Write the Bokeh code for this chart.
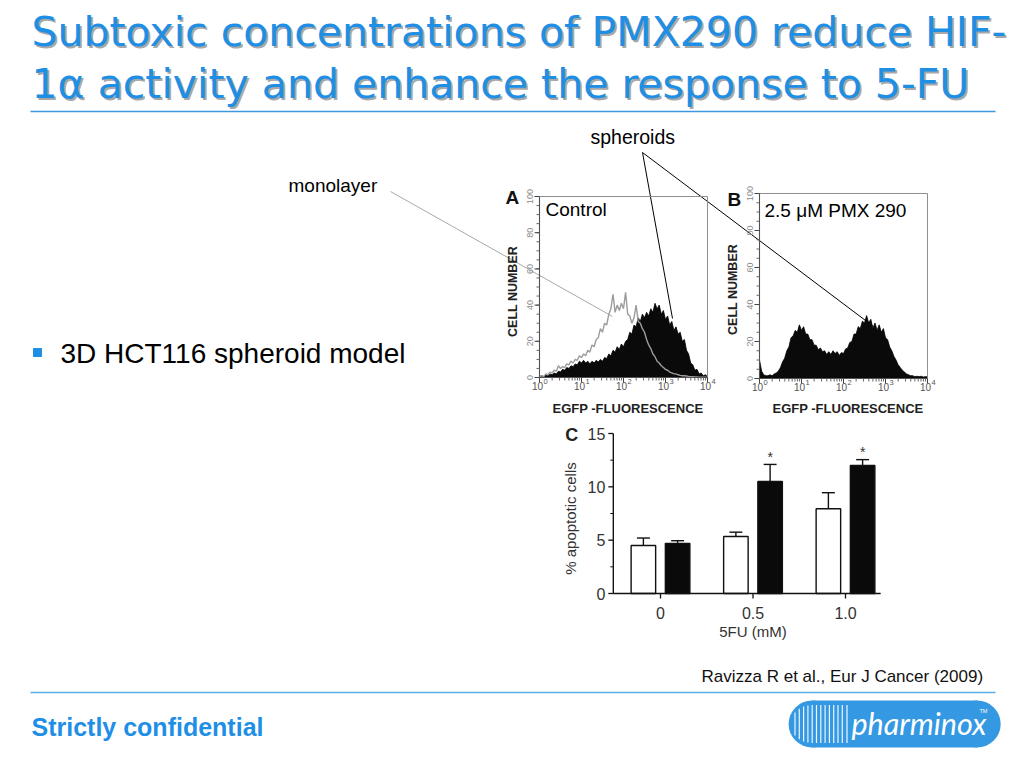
import math
from bokeh.plotting import figure
from bokeh.models import Range1d, LogScale
from bokeh.core.properties import value
from bokeh.embed import file_html
from bokeh.resources import INLINE

# ---------------- data ----------------
title_lines = ["Subtoxic concentrations of PMX290 reduce HIF-",
               "1\u03b1 activity and enhance the response to 5-FU"]
bullet_text = "3D HCT116 spheroid model"
citation = "Ravizza R et al., Eur J Cancer (2009)"
footer_text = "Strictly confidential"
logo_text = "pharminox"

# EGFP fluorescence channels (decades of the 4-decade log axis)
fluor_decades = [0.00, 0.05, 0.10, 0.15, 0.20, 0.25, 0.30, 0.35, 0.40, 0.45,
                 0.50, 0.55, 0.60, 0.65, 0.70, 0.75, 0.80, 0.85, 0.90, 0.95,
                 1.00, 1.05, 1.10, 1.15, 1.20, 1.25, 1.30, 1.35, 1.40, 1.45,
                 1.50, 1.55, 1.60, 1.65, 1.70, 1.75, 1.80, 1.85, 1.90, 1.95,
                 2.00, 2.05, 2.10, 2.15, 2.20, 2.25, 2.30, 2.35, 2.40, 2.45,
                 2.50, 2.55, 2.60, 2.65, 2.70, 2.75, 2.80, 2.85, 2.90, 2.95,
                 3.00, 3.05, 3.10, 3.15, 3.20, 3.25, 3.30, 3.35, 3.40, 3.45,
                 3.50, 3.55, 3.60, 3.65, 3.70, 3.75, 3.80, 3.85, 3.90, 3.95,
                 4.00]
# cell number, panel A (control): spheroids (black) and monolayer (grey)
spheroid_control = [0.5, 1, 0.5, 1.5, 1, 2, 1.5, 2.5, 2, 3.5,
                    3, 4.5, 4, 5.5, 5, 6.5, 6, 7.5, 7, 9,
                    8, 9.5, 8, 9, 7.5, 9, 8, 9.5, 8.5, 10,
                    9, 11, 10.5, 13, 12, 15, 14, 17, 15.5, 18.5,
                    17, 20, 21, 25, 24, 29, 28, 33, 31, 35,
                    33, 36, 34, 38, 36, 41, 38, 40, 35, 37,
                    32, 34, 29, 31, 26, 28, 24, 25, 20, 21,
                    15, 13, 8, 7, 4, 4.5, 2, 2.5, 1, 1.5,
                    0.5]
monolayer_control = [0, 1, 0.5, 2, 1.5, 3, 2.5, 4, 3.5, 6.5,
                     5, 6, 5.5, 7.5, 7, 9, 8, 10, 9.5, 12,
                     11, 13, 12, 15, 14, 18, 17, 21, 22, 27,
                     25, 30, 29, 35, 38, 46, 36, 40, 37, 41,
                     38, 47, 35, 34, 30, 33, 40, 31, 30, 27,
                     25, 21, 18, 16, 13, 11.5, 9, 8, 6.5, 5.5,
                     4.5, 4, 3, 2.5, 2, 2, 1.5, 1.2, 1, 1,
                     0.8, 0.6, 0.5, 0.4, 0.3, 0.3, 0.2, 0.2, 0.1, 0.1,
                     0]
# panel B (2.5 uM PMX 290): spheroids
spheroid_pmx = [10, 4, 2, 1.5, 1.5, 2, 1.5, 2.5, 3, 4,
                6, 9, 11, 15, 17, 22, 23, 26, 25, 29,
                26, 28, 24, 24, 21, 21, 18, 18, 15.5, 16.5,
                14.5, 15, 13, 14.5, 13, 15, 13.5, 14.5, 12.5, 14,
                13.5, 16, 16.5, 19.5, 20, 24, 24, 28, 27, 31,
                30, 34, 30, 32, 27, 30, 26, 29, 25, 27,
                22, 21, 17, 15, 12, 10, 7.5, 6, 4.5, 3.5,
                2.5, 2, 1.5, 1.5, 1, 1.2, 1, 1.2, 0.8, 1,
                1]
hist_x_ticks = [1, 10, 100, 1000, 10000]
hist_x_exponents = ["0", "1", "2", "3", "4"]
hist_y_ticks = [0, 20, 40, 60, 80, 100]
hist_y_labels = ["0", "20", "40", "60", "80", "100"]
hist_x_title = "EGFP -FLUORESCENCE"
hist_y_title = "CELL NUMBER"

# panel C: % apoptotic cells vs 5FU dose
fu_doses = ["0", "0.5", "1.0"]
apopt_control = [4.5, 5.35, 7.95]
apopt_control_err = [0.7, 0.4, 1.5]
apopt_pmx = [4.7, 10.5, 12.0]
apopt_pmx_err = [0.25, 1.6, 0.55]
apopt_sig = ["", "*", "*"]
c_y_ticks = [0, 5, 10, 15]
c_y_labels = ["0", "5", "10", "15"]
c_x_title = "5FU (mM)"
c_y_title = "% apoptotic cells"

# ---------------- page / figure ----------------
W, H = 1008, 752
X0, X1, Y0, Y1 = 0, W, 0, H
BLUE = "#1f8fe6"
ARIAL = "Liberation Sans"


def lin_range(v0, p0, v1, p1, lo, hi):
    k = (v1 - v0) / (p1 - p0)
    return Range1d(start=v0 + (lo - p0) * k, end=v0 + (hi - p0) * k)


def log_range(p_lo, p_hi, d_lo, d_hi):
    k = (d_hi - d_lo) / (p_hi - p_lo)
    return Range1d(start=10 ** (d_lo + (X0 - p_lo) * k), end=10 ** (d_lo + (X1 - p_lo) * k))


p = figure(width=W, height=H, x_range=Range1d(X0, X1), y_range=Range1d(Y1, Y0),
           output_backend="svg", toolbar_location=None,
           x_axis_location=None, y_axis_location=None, min_border=0,
           outline_line_color=None, background_fill_color="white",
           border_fill_color="white")
p.grid.visible = False

p.extra_x_ranges = {"ha": log_range(539, 707, 0, 4),
                    "hb": log_range(759, 927, 0, 4),
                    "c": lin_range(0, 660, 1, 752.5, X0, X1)}
p.extra_x_scales = {"ha": LogScale(), "hb": LogScale()}
p.extra_y_ranges = {"ha": lin_range(0, 377, 100, 196, Y1, Y0),
                    "hb": lin_range(0, 378, 100, 193, Y1, Y0),
                    "c": lin_range(0, 593, 15, 433, Y1, Y0)}


def label(xs, ys, texts, size, name=None, color="#000000", font=ARIAL, style="normal",
          align="left", baseline="alphabetic", angle=0.0, xo=0, yo=0, alpha=1.0):
    kw = dict(x_range_name=name, y_range_name=name) if name else {}
    if baseline == "alphabetic":
        # place by the baseline: centre the glyph box above it
        baseline = "middle"
        yo = yo - 0.35 * size
    p.text(x=list(xs), y=list(ys), text=list(texts), text_font=value(font),
           text_font_size=value(f"{size}px"), text_font_style=style,
           text_color=color, text_alpha=alpha, text_align=align,
           text_baseline=baseline, angle=angle, x_offset=xo, y_offset=yo, **kw)


def ticks(xs, ys, length, angle, name, color="#444444", width=1.0):
    p.ray(x=list(xs), y=list(ys), length=length, angle=angle, length_units="screen",
          line_color=color, line_width=width, x_range_name=name, y_range_name=name)


# ---------------- slide decoration ----------------
for line, base in zip(title_lines, [46, 98]):
    label([31], [base], [line], 41, font="DejaVu Sans", color="#8c8c8c", xo=2, yo=2, alpha=0.75)
    label([31], [base], [line], 41, font="DejaVu Sans", color=BLUE)
p.line([30, 995], [111, 111], line_color="#3a98e0", line_width=1.4)

p.scatter([37], [352], marker="square", size=8, fill_color=BLUE, line_color=BLUE)
label([60], [363], [bullet_text], 28)

label([701], [682], [citation], 17, color="#111111")
p.line([30, 995], [692, 692], line_color="#5aaee2", line_width=1.6)
label([31], [735], [footer_text], 25, style="bold", color=BLUE)

# logo pill
pill_l, pill_r, pill_t, pill_b = 811.6, 976.7, 700, 747
pill_c = (pill_t + pill_b) / 2
pill_rad = (pill_b - pill_t) / 2
LOGO = "#3499e2"
p.quad(left=[pill_l], right=[pill_r], top=[pill_t], bottom=[pill_b], fill_color=LOGO, line_color=None)
p.circle(x=[pill_l, pill_r], y=[pill_c, pill_c], radius=pill_rad, fill_color=LOGO, line_color=None)
stripe_x = [794.5, 798.8, 803.1, 807.4, 811.7, 816.0, 820.3, 824.6, 828.9, 833.2, 837.5, 841.8, 846.5]
s_y0, s_y1 = [], []
for sx in stripe_x:
    dx = max(0.0, pill_l - sx)
    half = math.sqrt(max(pill_rad ** 2 - dx ** 2, 0.0)) - 4.5
    s_y0.append(pill_c - half)
    s_y1.append(pill_c + half)
p.segment(x0=stripe_x, y0=s_y0, x1=stripe_x, y1=s_y1, line_color="white", line_width=1.2, line_alpha=0.9)
label([851], [733], [logo_text], 30.5, font="Lato", style="italic", color="white")
label([979], [712], ["TM"], 5.5, color="white")

# annotation callouts
label([288], [192], ["monolayer"], 19)
label([590], [143], ["spheroids"], 19.5)
p.line([390, 612], [191, 316], line_color="#a8a8a8", line_width=1)
p.line([672, 642, 873], [318, 152, 326], line_color="#000000", line_width=1)

# ---------------- histogram panels A and B ----------------
fluor = [10 ** d for d in fluor_decades]
minor_log = [m * 10 ** k for k in range(4) for m in range(2, 10)]
minor_lin = list(range(0, 101, 5))


def histogram(name, black, grey, letter, letter_pos, cond, cond_pos, ytitle_pos, xtitle_pos):
    kw = dict(x_range_name=name, y_range_name=name)
    xmin, xmax = hist_x_ticks[0], hist_x_ticks[-1]
    ymin, ymax = hist_y_ticks[0], hist_y_ticks[-1]
    p.varea(x=fluor, y1=0, y2=black, fill_color="#0a0a0a", **kw)
    p.line(fluor, black, line_color="#000000", line_width=0.8, **kw)
    if grey is not None:
        p.line(fluor, grey, line_color="#9c9c9c", line_width=1.4, **kw)
    # frame
    p.line([xmin, xmax, xmax], [ymax, ymax, ymin], line_color="#8f8f8f", line_width=1, **kw)
    p.line([xmin, xmin, xmax], [ymax, ymin, ymin], line_color="#505050", line_width=1.1, **kw)
    # ticks
    ticks([xmin] * len(minor_lin), minor_lin, 3, math.pi, name, "#666666")
    ticks([xmin] * len(hist_y_ticks), hist_y_ticks, 5, math.pi, name, "#444444")
    ticks(minor_log, [ymin] * len(minor_log), 3, -math.pi / 2, name, "#666666")
    ticks(hist_x_ticks, [ymin] * len(hist_x_ticks), 5, -math.pi / 2, name, "#444444")
    # tick labels
    label([xmin] * len(hist_y_ticks), hist_y_ticks, hist_y_labels, 9, name=name, color="#8a8a8a",
          align="center", baseline="middle", angle=math.pi / 2, xo=-10)
    label(hist_x_ticks, [ymin] * len(hist_x_ticks), ["10"] * len(hist_x_ticks), 10, name=name,
          color="#555555", align="center", baseline="alphabetic", xo=-2, yo=12)
    label(hist_x_ticks, [ymin] * len(hist_x_ticks), hist_x_exponents, 7.5, name=name,
          color="#555555", align="left", baseline="alphabetic", xo=4, yo=7)
    # titles
    label([letter_pos[0]], [letter_pos[1]], [letter], 19, style="bold", color="#111111")
    label([cond_pos[0]], [cond_pos[1]], [cond], 19, color="#000000")
    label([ytitle_pos[0]], [ytitle_pos[1]], [hist_y_title], 12.5, style="bold", color="#222222",
          align="center", baseline="middle", angle=math.pi / 2)
    label([xtitle_pos[0]], [xtitle_pos[1]], [hist_x_title], 13, style="bold", color="#222222",
          align="center", baseline="middle")


histogram("ha", spheroid_control, monolayer_control, "A", (505, 204), "Control", (545, 216),
          (512, 291), (627.5, 408))
histogram("hb", spheroid_pmx, None, "B", (727, 206), "2.5 \u03bcM PMX 290", (764, 217),
          (732, 289), (847.5, 408))

# ---------------- bar chart panel C ----------------
ckw = dict(x_range_name="c", y_range_name="c")
groups = list(range(len(fu_doses)))
off, bw = 0.185, 0.265
xw = [g - off for g in groups]
xb = [g + off for g in groups]
c_xmin, c_xmax = -0.51, 2.38
c_ymin, c_ymax = c_y_ticks[0], c_y_ticks[-1]

for xs, tops, errs, fill in [(xw, apopt_control, apopt_control_err, "white"),
                             (xb, apopt_pmx, apopt_pmx_err, "#0a0a0a")]:
    up = [t + e for t, e in zip(tops, errs)]
    p.segment(x0=xs, y0=tops, x1=xs, y1=up, line_color="#111111", line_width=1.4, **ckw)
    p.segment(x0=[x - 0.07 for x in xs], y0=up, x1=[x + 0.07 for x in xs], y1=up,
              line_color="#111111", line_width=1.4, **ckw)
    p.vbar(x=xs, top=tops, bottom=0, width=bw, fill_color=fill, line_color="#111111",
           line_width=1.4, **ckw)

sig_top = [t + e for t, e in zip(apopt_pmx, apopt_pmx_err)]
label(xb, sig_top, apopt_sig, 14, name="c", color="#333333", align="center",
      baseline="alphabetic", yo=-3)

p.line([c_xmin, c_xmax], [c_ymin, c_ymin], line_color="#111111", line_width=1.4, **ckw)
p.line([c_xmin, c_xmin], [c_ymin, c_ymax], line_color="#111111", line_width=1.4, **ckw)
ticks([c_xmin] * len(c_y_ticks), c_y_ticks, 5, math.pi, "c", "#111111", 1.3)
c_minor = [(a + b) / 2 for a, b in zip(c_y_ticks[:-1], c_y_ticks[1:])]
ticks([c_xmin] * len(c_minor), c_minor, 3, math.pi, "c", "#111111", 1.0)
ticks(groups, [c_ymin] * len(groups), 5, -math.pi / 2, "c", "#111111", 1.3)

label([c_xmin] * len(c_y_ticks), c_y_ticks, c_y_labels, 16, name="c", color="#333333",
      align="right", baseline="middle", xo=-8)
label(groups, [c_ymin] * len(groups), fu_doses, 16, name="c", color="#333333",
      align="center", baseline="top", yo=13)
label([groups[1]], [c_ymin], [c_x_title], 15, name="c", color="#333333",
      align="center", baseline="middle", yo=38)
label([c_xmin], [(c_ymin + c_ymax) / 2], [c_y_title], 15, name="c", color="#333333",
      align="center", baseline="middle", angle=math.pi / 2, xo=-43, yo=5)
label([c_xmin], [c_ymax], ["C"], 18, name="c", style="bold", color="#222222", xo=-48, yo=8)

open("out.html", "w").write(file_html(p, INLINE))
